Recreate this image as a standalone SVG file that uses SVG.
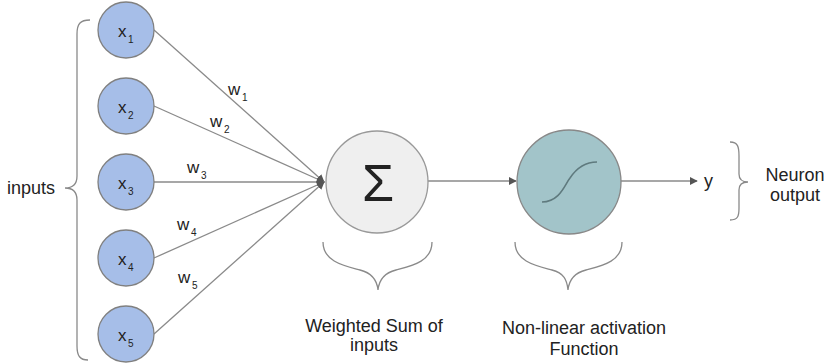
<svg xmlns="http://www.w3.org/2000/svg" width="830" height="363" viewBox="0 0 830 363">
<defs>
<style>
.in{fill:#a6bee8;stroke:#808080;stroke-width:1.3}
.t{font-family:"Liberation Sans",Arial,sans-serif;fill:#222}
.lbl{font-size:17px}
.sub{font-size:10px}
.big{font-size:18px}
.ln{stroke:#8a8a8a;stroke-width:1.3;fill:none}
.br{stroke:#8a8a8a;stroke-width:1.3;fill:none}
</style>
<marker id="ah" viewBox="0 0 10 10" refX="9" refY="5" markerWidth="8" markerHeight="8" markerUnits="userSpaceOnUse" orient="auto">
<path d="M0,0 L10,5 L0,10 z" fill="#555"/>
</marker>
</defs>
<rect width="830" height="363" fill="#fff"/>
<g id="connectors">
<line class="ln" x1="154" y1="30" x2="324" y2="182" marker-end="url(#ah)"/>
<line class="ln" x1="154" y1="106" x2="324" y2="182" marker-end="url(#ah)"/>
<line class="ln" x1="154" y1="182" x2="324" y2="182" marker-end="url(#ah)"/>
<line class="ln" x1="154" y1="258" x2="324" y2="182" marker-end="url(#ah)"/>
<line class="ln" x1="154" y1="334" x2="324" y2="182" marker-end="url(#ah)"/>
<line class="ln" x1="428" y1="181" x2="516" y2="181" marker-end="url(#ah)"/>
<line class="ln" x1="621" y1="181" x2="697" y2="181" marker-end="url(#ah)"/>
</g>
<g id="weights" class="t">
<text class="lbl" x="228" y="95">w</text><text class="sub" x="242" y="101">1</text>
<text class="lbl" x="210" y="127">w</text><text class="sub" x="224" y="133">2</text>
<text class="lbl" x="187" y="173">w</text><text class="sub" x="201" y="179">3</text>
<text class="lbl" x="177" y="230">w</text><text class="sub" x="191" y="236">4</text>
<text class="lbl" x="178" y="283">w</text><text class="sub" x="192" y="289">5</text>
</g>
<g id="x1"><circle class="in" cx="126" cy="30" r="28"/><text class="t lbl" x="118" y="37">x</text><text class="t sub" x="128" y="43">1</text></g>
<g id="x2"><circle class="in" cx="126" cy="106" r="28"/><text class="t lbl" x="118" y="113">x</text><text class="t sub" x="128" y="119">2</text></g>
<g id="x3"><circle class="in" cx="126" cy="182" r="28"/><text class="t lbl" x="118" y="189">x</text><text class="t sub" x="128" y="195">3</text></g>
<g id="x4"><circle class="in" cx="126" cy="258" r="28"/><text class="t lbl" x="118" y="265">x</text><text class="t sub" x="128" y="271">4</text></g>
<g id="x5"><circle class="in" cx="126" cy="334" r="28"/><text class="t lbl" x="118" y="341">x</text><text class="t sub" x="128" y="347">5</text></g>
<g id="inputs">
<path class="br" d="M90,20 C80,20 77,24 77,34 L77,176 C77,184 73,188 65,188 C73,188 77,192 77,200 L77,346 C77,356 80,360 88,360"/>
<text class="t big" x="7" y="194">inputs</text>
</g>
<g id="sum">
<circle cx="377" cy="182" r="51" fill="#efefef" stroke="#999" stroke-width="1.3"/>
<text class="t" x="378" y="201" font-size="52" text-anchor="middle" fill="#111">Σ</text>
<path class="br" d="M323,242 C323,262 345,266 360,270 C372,273 377,280 378,290 C379,280 384,273 396,270 C411,266 432,262 432,242"/>
<text class="t big" x="374" y="332" text-anchor="middle">Weighted Sum of</text>
<text class="t big" x="374" y="351" text-anchor="middle">inputs</text>
</g>
<g id="activation">
<circle cx="569" cy="182" r="52" fill="#a2c4c9" stroke="#888" stroke-width="1.3"/>
<path d="M542,202 C560,202 565,184 570,178 C576,169 584,162 597,162" fill="none" stroke="#5f7a7e" stroke-width="1.6"/>
<path class="br" d="M515,242 C515,262 537,266 552,270 C564,273 567,280 568,290 C569,280 574,273 586,270 C601,266 622,262 622,242"/>
<text class="t big" x="584" y="334" text-anchor="middle">Non-linear activation</text>
<text class="t big" x="584" y="355" text-anchor="middle">Function</text>
</g>
<g id="output">
<text class="t big" x="704" y="187">y</text>
<path class="br" d="M730,142 C738,142 739,147 739,156 L739,174 C739,179 742,182 748,182 C742,182 739,185 739,190 L739,208 C739,216 738,220 730,220"/>
<text class="t big" x="795" y="181" text-anchor="middle">Neuron</text>
<text class="t big" x="795" y="201" text-anchor="middle">output</text>
</g>
</svg>
